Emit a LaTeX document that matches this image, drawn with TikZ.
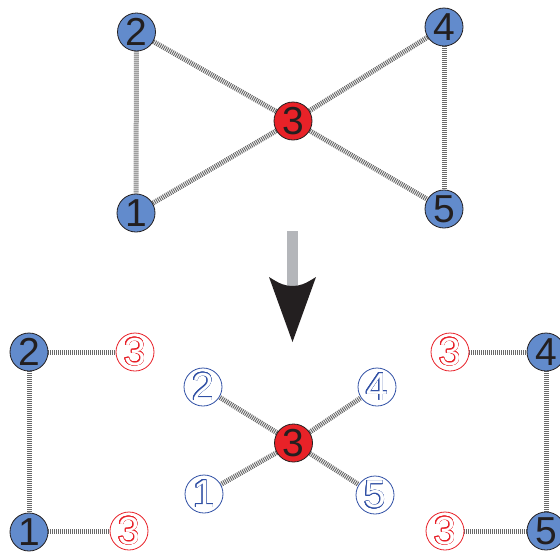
\documentclass[tikz,border=0pt]{standalone}
\usepackage{fontspec}
\setmainfont{Liberation Sans}
\usepackage{contour}
\contourlength{0.75pt}
\contournumber{16}
\usetikzlibrary{backgrounds}
\definecolor{nblue}{RGB}{98,139,204}
\definecolor{nred}{RGB}{232,34,40}
\definecolor{hblue}{RGB}{48,80,165}
\definecolor{hred}{RGB}{232,32,40}
\definecolor{egray}{RGB}{105,105,105}
\definecolor{sgray}{RGB}{180,182,186}
\definecolor{hblack}{RGB}{35,31,32}
\tikzset{
  vtx/.style={circle, draw=hblack, line width=0.8pt, minimum size=38pt, inner sep=0pt,
    font=\fontsize{39}{39}\selectfont, text=hblack},
  bv/.style={vtx, fill=nblue},
  rv/.style={vtx, fill=nred},
  hv/.style={circle, draw=#1, line width=0.8pt, fill=white, minimum size=38pt, inner sep=0pt,
    font=\fontsize{39}{39}\selectfont},
  edge/.style={draw=egray, line width=5pt, dash pattern=on 1pt off 1pt}
}
\newcommand{\hol}[2]{\contour{#1}{\textcolor{white}{#2}}}
\begin{document}
\begin{tikzpicture}[x=1pt,y=-1pt]
\useasboundingbox (0,0) rectangle (560,552);
% top graph
\node[bv] (t2) at (136.5,32) {2};
\node[bv] (t4) at (444,27) {4};
\node[rv] (t3) at (293,121) {3};
\node[bv] (t1) at (136,213) {1};
\node[bv] (t5) at (444,209) {5};
% arrow
\coordinate (ae) at (292.5,342);
\fill[sgray] (287,231) rectangle (298,290);
\fill[hblack] (269,277) .. controls (280,284) and (285,286) .. (292.5,286)
  .. controls (300,286) and (305,284) .. (316,277) -- (ae) -- cycle;
% bottom left
\node[bv] (l2) at (29,352) {2};
\node[bv] (l1) at (29,532) {1};
\node[hv=hred] (l3a) at (135,352) {\hol{hred}{3}};
\node[hv=hred] (l3b) at (129,531) {\hol{hred}{3}};
% bottom middle
\node[rv] (m3) at (293.5,443) {3};
\node[hv=hblue] (m2) at (203,387) {\hol{hblue}{2}};
\node[hv=hblue] (m4) at (377,387) {\hol{hblue}{4}};
\node[hv=hblue] (m1) at (204,494) {\hol{hblue}{1}};
\node[hv=hblue] (m5) at (375,495) {\hol{hblue}{5}};
% bottom right
\node[bv] (r4) at (546,352) {4};
\node[bv] (r5) at (546,531) {5};
\node[hv=hred] (r3a) at (450,352) {\hol{hred}{3}};
\node[hv=hred] (r3b) at (445,531) {\hol{hred}{3}};
% edges
\begin{scope}[on background layer]
\draw[edge] (t2) -- (t1);
\draw[edge] (t2) -- (t3);
\draw[edge] (t3) -- (t4);
\draw[edge] (t3) -- (t1);
\draw[edge] (t3) -- (t5);
\draw[edge] (t4) -- (t5);
\draw[edge] (l2) -- (l1);
\draw[edge] (l2) -- (l3a);
\draw[edge] (l1.east |- l3b) -- (l3b);
\draw[edge] (m3) -- (m2);
\draw[edge] (m3) -- (m4);
\draw[edge] (m3) -- (m1);
\draw[edge] (m3) -- (m5);
\draw[edge] (r3a) -- (r4);
\draw[edge] (r4) -- (r5);
\draw[edge] (r3b) -- (r5);
\end{scope}
\end{tikzpicture}
\end{document}
